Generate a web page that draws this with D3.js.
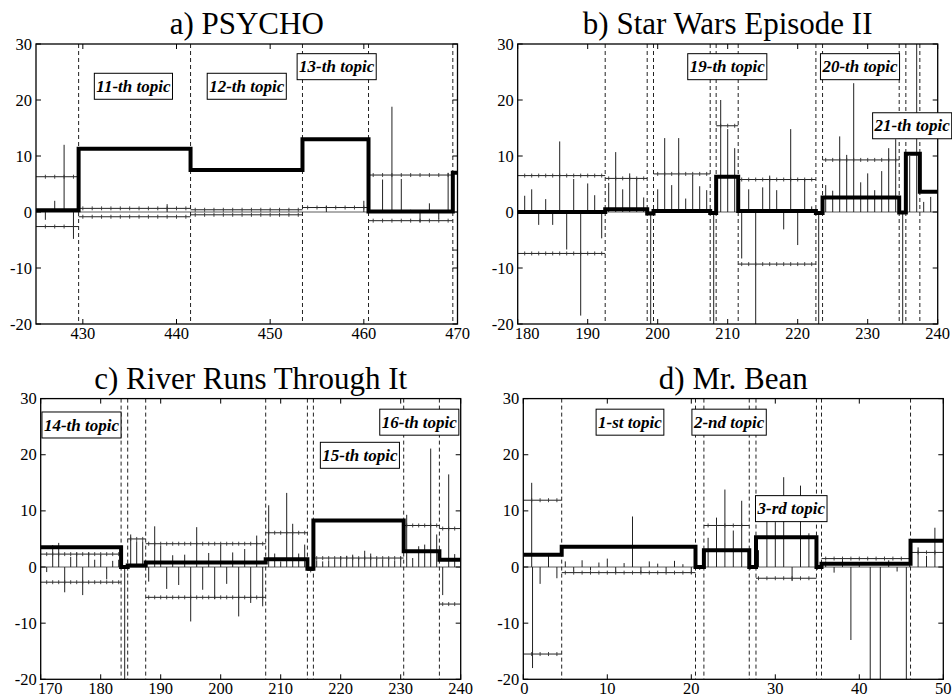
<!DOCTYPE html>
<html><head><meta charset="utf-8">
<script src="https://cdn.jsdelivr.net/npm/d3@7"></script>
<style>
body{margin:0;background:#fff}
svg{display:block}
</style>
</head><body><svg id="chart" width="952" height="698"></svg>
<script>
const yDomain = [-20, 30];
const yTicks = [-20, -10, 0, 10, 20, 30];

// a) PSYCHO
const aTitle = "a) PSYCHO";
const aXDomain = [425, 470];
const aXTicks = [430, 440, 450, 460, 470];
const aBounds = [425, 429.55, 441.5, 453.45, 460.5, 469.5, 470];
const aLevel = [0.3, 11.3, 7.5, 13.0, 0.1, 7.0];
const aUpper = [6.3, 0.65, 0.4, 0.8, 6.6, null];
const aLower = [-2.6, -0.85, -0.5, null, -1.55, -6.8];
const aStemX = [426, 427, 428, 429, 439, 456, 460, 462, 463, 464, 465, 466, 467, 468, 469];
const aStemY = [-1.4, 2.0, 12.0, -4.8, 1.4, 1.1, 2.0, 5.8, 18.8, 5.9, 0.4, -1.85, 1.55, -1.25, 7.0];
const aTopics = ["11-th topic", "12-th topic", "13-th topic"];
const aTopicX = [435.4, 447.5, 457.1];
const aTopicY = [22.45, 22.45, 25.95];

// b) Star Wars Episode II
const bTitle = "b) Star Wars Episode II";
const bXDomain = [180, 240];
const bXTicks = [180, 190, 200, 210, 220, 230, 240];
const bBounds = [180, 192.5, 198.5, 199.4, 207.5, 208.35, 211.5, 222.6, 223.55, 234.5, 235.45, 237.45, 240];
const bLevel = [0, 0.5, -0.25, 0.2, -0.2, 6.3, 0.2, -0.2, 2.6, -0.1, 10.4, 3.6];
const bUpper = [6.5, 6.0, null, 6.8, null, 15.4, 5.8, null, 9.3, null, null, null];
const bLower = [-7.4, null, null, null, null, null, -9.3, null, null, null, null, null];
const bStemX = [181, 182, 183, 184, 185, 186, 187, 188, 189, 190, 191, 192,
  193, 194, 195, 196, 197, 198, 199,
  200, 201, 202, 203, 204, 205, 206, 207, 208,
  209, 210, 211,
  212, 213, 214, 215, 216, 217, 218, 219, 220, 221, 222, 223,
  224, 225, 226, 227, 228, 229, 230, 231, 232, 233, 234, 235, 236, 237, 238, 239];
const bStemY = [2.9, 4.05, -2.3, 2.3, -2.3, 12.6, -6.7, 5.9, -18.5, 5.1, 3.0, -4.7,
  5.2, 10.7, 4.05, 6.9, 6.0, 2.6, -25,
  4.05, 13.2, 4.8, 13.2, 2.4, 6.6, 4.6, 3.9, -25,
  20.0, 14.8, 11.4,
  -8.3, 4.05, -25, 4.4, 6.5, 3.9, -3.1, 14.8, -5.9, 5.8, 1.0, -25,
  4.8, 3.8, 13.5, 10.2, 23.0, 5.3, 6.9, 3.9, 7.3, 11.4, 13.0, -25, 10.0, 31, 1.8, 2.7];
const bTopics = ["19-th topic", "20-th topic", "21-th topic"];
const bTopicX = [209.94, 228.9, 236.35];
const bTopicY = [25.95, 25.95, 15.4];

// c) River Runs Through It
const cTitle = "c) River Runs Through It";
const cXDomain = [170, 240];
const cXTicks = [170, 180, 190, 200, 210, 220, 230, 240];
const cBounds = [170, 183.4, 184.5, 187.5, 207.5, 214.45, 215.45, 230.5, 236.45, 240];
const cLevel = [3.5, 0, 0.25, 0.8, 1.4, -0.3, 8.3, 2.8, 1.3];
const cUpper = [2.3, null, 5.0, 4.15, 6.1, null, 1.6, 7.4, 6.85];
const cLower = [-2.7, null, null, -5.4, null, -0.6, null, null, -6.6];
const cStemX = [171, 172, 173, 174, 175, 176, 177, 178, 179, 180, 181, 182, 183, 184,
  185, 186, 187,
  188, 189, 190, 191, 192, 193, 194, 195, 196, 197, 198, 199, 200, 201, 202, 203, 204, 205, 206, 207,
  208, 209, 210, 211, 212, 213, 214, 215,
  216, 217, 218, 219, 220, 221, 222, 223, 224, 225, 226, 227, 228, 229, 230,
  231, 232, 233, 234, 235, 236, 237, 238, 239];
const cStemY = [-0.9, 3.9, 4.3, -4.5, 1.8, 2.6, -5.0, 2.6, 1.3, 2.2, -2.2, 1.1, 1.3, -25,
  5.8, 4.6, 4.6,
  -2.6, 7.25, 3.8, -3.9, 2.1, -3.2, 2.2, -9.7, 7.1, -4.05, 2.5, -5.7, 4.0, -3.0, 2.6, -8.8, 3.2, -6.4, 5.6, -7.0,
  11.0, 2.4, 1.0, 13.2, 7.7, 2.4, 4.0, -0.7,
  1.2, 1.0, 1.2, 1.3, 1.9, 2.0, 2.2, 1.6, 2.9, 2.4, 1.5, 1.3, 1.5, 1.2, 1.8,
  9.3, 1.6, 3.7, 4.0, 21.1, 5.8, -5.0, 16.5, 2.3];
const cTopics = ["14-th topic", "15-th topic", "16-th topic"];
const cTopicX = [176.8, 223.2, 233.1];
const cTopicY = [25.3, 19.9, 25.8];

// d) Mr. Bean
const dTitle = "d) Mr. Bean";
const dXDomain = [0, 50];
const dXTicks = [0, 10, 20, 30, 40, 50];
const dBounds = [0, 4.57, 20.5, 21.5, 26.9, 27.7, 34.9, 35.5, 46.1, 50];
const dLevel = [2.2, 3.6, 0, 3.0, 0, 5.3, 0, 0.6, 4.7];
const dUpper = [11.9, null, null, 7.4, null, 10.7, null, 1.5, 2.6];
const dLower = [-15.5, -1.0, null, null, null, -2.0, null, null, null];
const dStemX = [1, 1.1, 2, 3, 4,
  5, 6, 7, 8, 9, 10, 11, 12, 13, 14, 15, 16, 17, 18, 19, 20, 21,
  22, 23, 24, 25, 26, 27,
  28, 29, 30, 31, 32, 33, 34, 35,
  36, 37, 38, 39, 40, 41.3, 42.5, 43.5, 44.5, 45.6, 46,
  47, 48, 49];
const dStemY = [15.0, -18.0, -3.0, 2.5, -2.0,
  1.0, -0.8, 1.2, -0.6, 0.8, 1.5, -0.9, 0.7, 9.0, -1.0, 1.0, 0.6, -0.8, 1.1, 0.5, -1.2, -0.5,
  5.2, 8.8, 13.8, 6.5, 11.8, -0.5,
  3.0, 12.5, 8.0, 16.0, -2.5, 14.5, 6.0, -0.5,
  1.0, -1.0, 1.5, -13.0, 0.8, -25, -25, 1.2, -0.8, -25, 1.0,
  3.5, 2.0, 7.0];
const dTopics = ["1-st topic", "2-nd topic", "3-rd topic"];
const dTopicX = [12.7, 24.5, 31.9];
const dTopicY = [25.8, 25.8, 10.4];

const panels = [
  {title: aTitle, xd: aXDomain, xt: aXTicks, bounds: aBounds, level: aLevel, upper: aUpper, lower: aLower,
   sx: aStemX, sy: aStemY, tt: aTopics, tx: aTopicX, ty: aTopicY, box: [36, 457.5, 44, 324], titleY: 34},
  {title: bTitle, xd: bXDomain, xt: bXTicks, bounds: bBounds, level: bLevel, upper: bUpper, lower: bLower,
   sx: bStemX, sy: bStemY, tt: bTopics, tx: bTopicX, ty: bTopicY, box: [517.7, 937.7, 44, 324], titleY: 34},
  {title: cTitle, xd: cXDomain, xt: cXTicks, bounds: cBounds, level: cLevel, upper: cUpper, lower: cLower,
   sx: cStemX, sy: cStemY, tt: cTopics, tx: cTopicX, ty: cTopicY, box: [40.7, 460.7, 398.6, 679.3], titleY: 388.5},
  {title: dTitle, xd: dXDomain, xt: dXTicks, bounds: dBounds, level: dLevel, upper: dUpper, lower: dLower,
   sx: dStemX, sy: dStemY, tt: dTopics, tx: dTopicX, ty: dTopicY, box: [523.3, 943.3, 398.6, 679.3], titleY: 388.5}
];

const svg = d3.select("#chart");
const FONT = '"Liberation Serif", serif';
const txt = (sel, size) => sel.style("font-family", FONT).style("font-size", size + "px");

panels.forEach((p, pi) => {
  const [L, R, T, B] = p.box;
  const x = d3.scaleLinear().domain(p.xd).range([L, R]);
  const y = d3.scaleLinear().domain(yDomain).range([B, T]);
  const g = svg.append("g");
  const clipId = "clip" + pi;
  svg.append("clipPath").attr("id", clipId).append("rect")
    .attr("x", L).attr("y", T).attr("width", R - L).attr("height", B - T);
  const plot = g.append("g").attr("clip-path", `url(#${clipId})`);

  // zero baseline
  plot.append("line").attr("x1", L).attr("x2", R).attr("y1", y(0)).attr("y2", y(0))
    .attr("stroke", "#333").attr("stroke-width", 0.8);

  // stems
  const cl = v => Math.max(yDomain[0] - 1, Math.min(yDomain[1] + 1, v));
  plot.selectAll(".stem").data(p.sx.map((v, i) => [v, p.sy[i]])).join("line")
    .attr("x1", d => x(d[0])).attr("x2", d => x(d[0]))
    .attr("y1", y(0)).attr("y2", d => y(cl(d[1])))
    .attr("stroke", "#222").attr("stroke-width", 1);

  // thin envelope lines with point markers
  const segs = p.level.map((lv, i) => ({x0: p.bounds[i], x1: p.bounds[i + 1], up: p.upper[i], lo: p.lower[i]}));
  segs.forEach(s => {
    [s.up, s.lo].forEach(v => {
      if (v === null || v === undefined) return;
      plot.append("line").attr("x1", x(s.x0)).attr("x2", x(s.x1)).attr("y1", y(v)).attr("y2", y(v))
        .attr("stroke", "#222").attr("stroke-width", 1);
      const pts = d3.range(Math.ceil(s.x0), Math.floor(s.x1) + 1).filter(t => t > s.x0 && t < s.x1);
      plot.selectAll(null).data(pts).join("line")
        .attr("x1", t => x(t)).attr("x2", t => x(t))
        .attr("y1", y(v) - 2).attr("y2", y(v) + 2)
        .attr("stroke", "#333").attr("stroke-width", 0.9);
    });
  });

  // dashed boundaries
  const inner = p.bounds.slice(1, -1);
  plot.selectAll(".dash").data(inner).join("line")
    .attr("x1", d => x(d)).attr("x2", d => x(d)).attr("y1", T).attr("y2", B)
    .attr("stroke", "#222").attr("stroke-width", 1).attr("stroke-dasharray", "4,3");

  // thick step
  const stepPts = p.level.map((lv, i) => [p.bounds[i], lv]);
  stepPts.push([p.bounds[p.bounds.length - 1], p.level[p.level.length - 1]]);
  plot.append("path").datum(stepPts)
    .attr("d", d3.line().x(d => x(d[0])).y(d => y(d[1])).curve(d3.curveStepAfter))
    .attr("fill", "none").attr("stroke", "#000").attr("stroke-width", 4);

  // axes box
  g.append("rect").attr("x", L).attr("y", T).attr("width", R - L).attr("height", B - T)
    .attr("fill", "none").attr("stroke", "#000").attr("stroke-width", 1.3);
  const tl = 5;
  p.xt.forEach(t => {
    g.append("line").attr("x1", x(t)).attr("x2", x(t)).attr("y1", B).attr("y2", B - tl).attr("stroke", "#000");
    g.append("line").attr("x1", x(t)).attr("x2", x(t)).attr("y1", T).attr("y2", T + tl).attr("stroke", "#000");
    const lab = g.append("text").attr("x", x(t)).attr("y", B + 15).attr("text-anchor", "middle").text(t);
    txt(lab, 16.5);
    if (t === p.xd[0]) {
      const hw = lab.node().getComputedTextLength() / 2;
      lab.attr("x", x(t) + Math.max(0, hw - 3));
    }
  });
  yTicks.forEach(t => {
    g.append("line").attr("x1", L).attr("x2", L + tl).attr("y1", y(t)).attr("y2", y(t)).attr("stroke", "#000");
    g.append("line").attr("x1", R).attr("x2", R - tl).attr("y1", y(t)).attr("y2", y(t)).attr("stroke", "#000");
    txt(g.append("text").attr("x", L - 4).attr("y", y(t)).attr("dy", "0.34em").attr("text-anchor", "end").text(t), 16.5);
  });

  // title
  txt(g.append("text").attr("x", (L + R) / 2).attr("y", p.titleY).attr("text-anchor", "middle").text(p.title), 31);

  // topic labels
  p.tt.forEach((t, i) => {
    const cx = x(p.tx[i]), cy = y(p.ty[i]);
    const lg = g.append("g");
    const rect = lg.append("rect").attr("fill", "#fff").attr("stroke", "#000").attr("stroke-width", 1);
    const tx = lg.append("text").attr("x", cx).attr("y", cy).attr("dy", "0.33em").attr("text-anchor", "middle")
      .style("font-weight", "bold").style("font-style", "italic").text(t);
    txt(tx, 17);
    const w = tx.node().getComputedTextLength() + 4;
    rect.attr("x", cx - w / 2).attr("y", cy - 13).attr("width", w).attr("height", 26);
  });
});
</script></body></html>
